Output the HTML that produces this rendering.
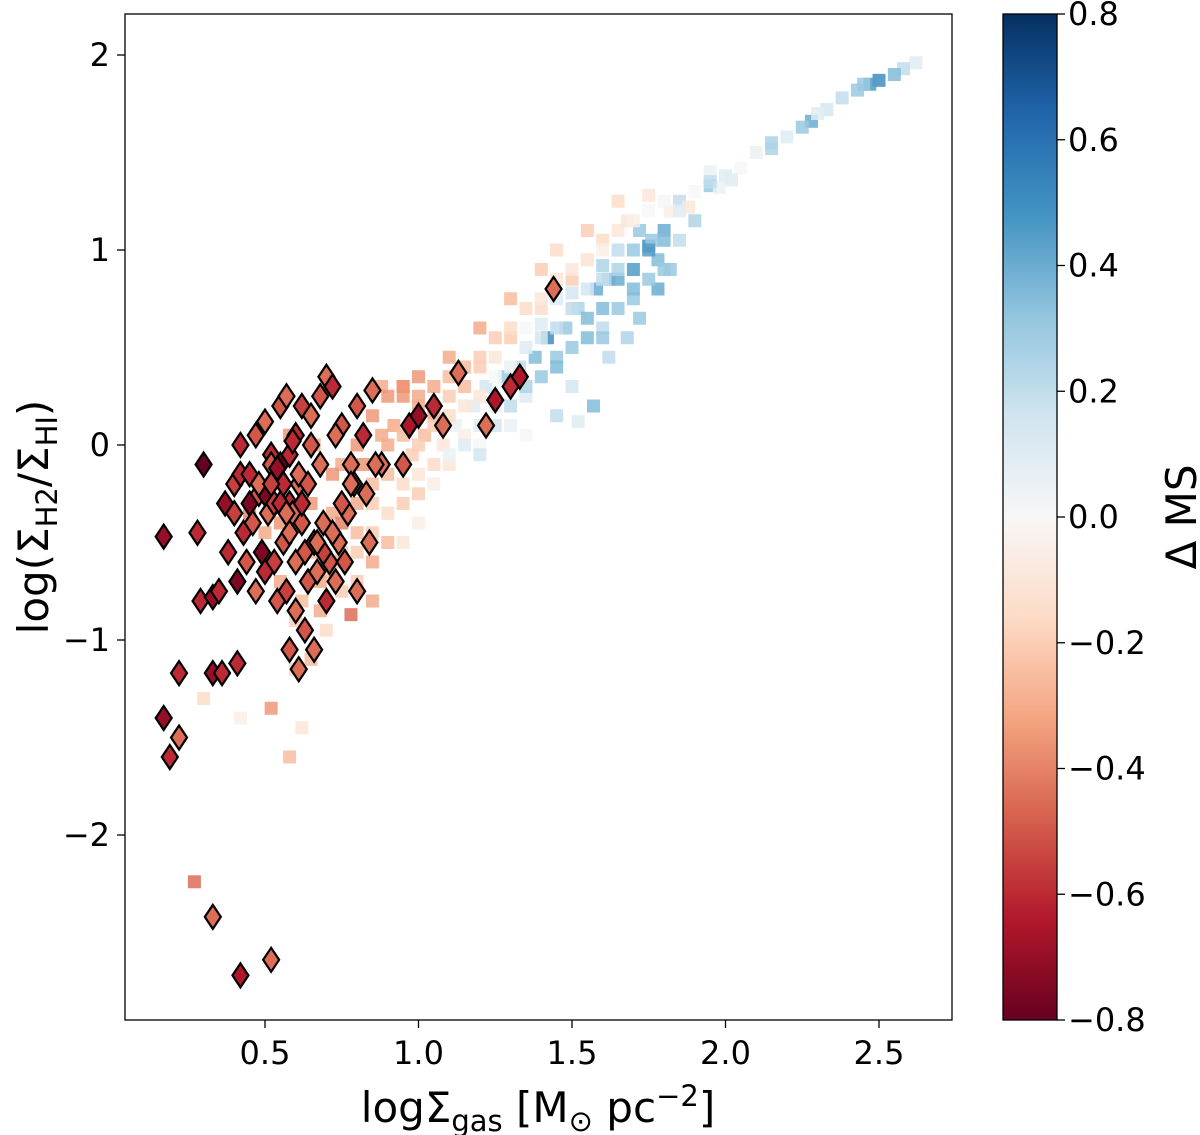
<!DOCTYPE html>
<html><head><meta charset="utf-8"><style>
body{margin:0;background:#fff;}
svg{display:block;font-family:"DejaVu Sans","Liberation Sans",sans-serif;}
</style></head><body>
<svg id="chart" width="1200" height="1135" viewBox="0 0 1200 1135">
<defs>
<linearGradient id="cmap" x1="0" y1="1" x2="0" y2="0">
<stop offset="0" stop-color="#67001f"/><stop offset="0.1" stop-color="#b2182b"/><stop offset="0.2" stop-color="#d6604d"/><stop offset="0.3" stop-color="#f4a582"/><stop offset="0.4" stop-color="#fddbc7"/><stop offset="0.5" stop-color="#f7f7f7"/><stop offset="0.6" stop-color="#d1e5f0"/><stop offset="0.7" stop-color="#92c5de"/><stop offset="0.8" stop-color="#4393c3"/><stop offset="0.9" stop-color="#2166ac"/><stop offset="1" stop-color="#053061"/>
</linearGradient>
<clipPath id="plotclip"><rect x="125" y="14" width="827" height="1006"/></clipPath>
</defs>
<g id="squares" clip-path="url(#plotclip)"></g>
<g id="diamonds" clip-path="url(#plotclip)"></g>
<rect x="125" y="14" width="827" height="1006" fill="none" stroke="#000" stroke-width="1.3"/>
<g id="xticks"></g>
<g id="yticks"></g>
<text x="538" y="1122" font-size="42" text-anchor="middle">logΣ<tspan font-size="29" dy="9">gas</tspan><tspan dy="-9"> [M</tspan><tspan font-size="29" dy="9">⊙</tspan><tspan dy="-9"> pc</tspan><tspan font-size="29" dy="-16">−2</tspan><tspan dy="16">]</tspan></text>
<text transform="translate(48,517) rotate(-90)" font-size="42" text-anchor="middle">log(Σ<tspan font-size="29" dy="9">H2</tspan><tspan dy="-9">/Σ</tspan><tspan font-size="29" dy="9">HI</tspan><tspan dy="-9">)</tspan></text>
<rect x="1003" y="14" width="54" height="1006" fill="url(#cmap)" stroke="#000" stroke-width="1.3"/>
<g id="cticks"></g>
<text transform="translate(1196,517) rotate(-90)" font-size="42" text-anchor="middle">Δ MS</text>
</svg>
<script>
const xTicks=[0.5,1.0,1.5,2.0,2.5];
const xTickLabels=["0.5","1.0","1.5","2.0","2.5"];
const yTicks=[2,1,0,-1,-2];
const yTickLabels=["2","1","0","−1","−2"];
const cTicks=[0.8,0.6,0.4,0.2,0.0,-0.2,-0.4,-0.6,-0.8];
const cTickLabels=["0.8","0.6","0.4","0.2","0.0","−0.2","−0.4","−0.6","−0.8"];
const sqX=[2.62,2.58,2.55,2.5,2.47,2.43,2.38,2.33,2.28,2.25,2.2,2.15,2.1,2.05,2.0,1.95,1.9,1.85,1.82,1.8,1.78,1.75,1.72,1.7,1.68,1.65,1.62,1.6,1.58,1.55,1.52,1.5,1.48,1.45,1.42,1.4,1.38,1.35,1.33,1.3,1.28,1.25,1.22,1.2,1.18,1.15,1.12,1.1,1.08,1.05,1.02,1.0,0.98,0.95,0.92,0.9,0.88,0.85,0.82,0.8,0.78,0.75,0.72,0.7,0.68,0.65,0.6,0.62,0.58,0.52,0.42,0.3,0.27,0.78,1.5,1.6,1.7,1.65,1.55,1.45,1.35,1.25,1.15,1.05,0.95,0.9,0.85,0.8,0.75,1.4,1.45,1.55,1.65,1.75,1.3,1.2,1.1,1.0,0.95,0.88,1.57,1.52,1.45,1.35,1.62,1.68,1.72,0.6,0.55,0.7,0.5,0.52,0.65,0.85,1.0,1.1,1.2,1.3,1.82,1.85,1.9,1.78,1.98,2.02,1.88,1.76,1.6,1.5,1.4,
0.75,0.75,0.75,0.8,0.8,0.8,0.85,0.85,0.85,0.9,0.9,0.9,0.95,0.95,0.95,0.95,1.0,1.0,1.0,1.0,1.05,1.05,1.05,1.1,1.1,1.1,1.15,1.15,1.15,1.2,1.2,1.2,1.2,1.25,1.25,1.25,1.3,1.3,1.3,1.35,1.35,1.35,1.4,1.4,1.4,1.45,1.45,1.45,1.5,1.5,1.5,1.55,1.55,1.55,1.6,1.6,1.6,1.6,1.65,1.65,1.65,1.7,1.7,1.7,1.75,1.75,1.75,1.8,1.8,1.8,1.85,1.95,1.95,2.15,2.3,2.45,0.5,0.55,0.6,0.65,0.7,0.45,0.62,0.68,0.72,0.66,0.58];
const sqY=[1.96,1.93,1.9,1.87,1.85,1.82,1.78,1.72,1.66,1.63,1.58,1.52,1.5,1.42,1.38,1.33,1.3,1.25,1.2,1.1,0.95,1.02,1.1,0.9,1.15,1.0,0.85,1.05,0.8,0.95,0.7,0.85,0.6,0.75,0.55,0.7,0.45,0.6,0.4,0.55,0.35,0.45,0.3,0.4,0.2,0.3,0.1,0.25,0.0,0.15,0.05,0.2,-0.05,0.25,0.1,-0.15,0.05,-0.3,-0.1,-0.45,-0.2,-0.55,-0.35,-0.65,-0.85,-1.1,-1.15,-1.45,-1.6,-1.35,-1.4,-1.3,-2.24,-0.87,0.3,0.6,0.75,0.85,0.65,0.45,0.25,0.2,0.05,-0.1,-0.3,-0.5,-0.6,-0.7,-0.4,0.9,1.0,1.1,1.25,1.28,0.75,0.6,0.45,0.35,0.3,0.3,0.2,0.12,0.15,0.05,0.45,0.55,0.65,-0.9,-0.7,-0.95,-0.45,-0.2,-0.3,-0.8,-0.25,-0.1,0.0,0.1,0.9,1.05,1.15,0.8,1.32,1.36,1.22,1.05,0.92,0.78,0.62,
-0.1,-0.6,-0.75,0.0,-0.3,-0.55,0.15,-0.2,-0.45,0.25,0.0,-0.35,0.3,0.05,-0.2,-0.5,0.25,0.0,-0.15,-0.4,0.3,0.1,-0.2,0.35,0.15,-0.05,0.4,0.2,0.0,0.45,0.25,0.1,-0.05,0.55,0.35,0.1,0.6,0.4,0.2,0.7,0.5,0.3,0.75,0.55,0.35,0.85,0.6,0.4,0.9,0.7,0.5,0.95,0.8,0.55,1.0,0.85,0.7,0.55,1.1,0.9,0.7,1.15,1.0,0.8,1.2,1.0,0.85,1.25,1.05,0.9,1.2,1.4,1.35,1.55,1.7,1.85,-0.65,-0.4,-0.6,-0.55,-0.4,-0.35,-0.8,-0.7,-0.15,0.0,0.05];
const sqC=[0.1,0.2,0.35,0.5,0.45,0.3,0.2,0.15,0.4,0.3,0.1,0.25,0.05,0.0,0.1,0.3,0.0,0.2,-0.05,0.4,0.35,0.5,0.3,0.45,-0.1,0.2,0.3,-0.15,0.4,-0.1,0.25,-0.2,0.3,0.1,0.5,-0.15,0.35,0.0,0.2,-0.2,0.3,-0.1,0.15,-0.2,0.1,-0.25,0.05,-0.2,-0.1,-0.3,-0.25,-0.3,-0.2,-0.35,-0.3,-0.25,-0.3,-0.2,-0.35,-0.25,-0.3,-0.2,-0.3,-0.25,-0.3,-0.25,-0.2,-0.1,-0.25,-0.35,-0.05,-0.15,-0.45,-0.45,0.15,0.2,0.3,0.4,0.35,0.3,0.1,0.05,-0.05,-0.15,-0.2,-0.25,-0.3,-0.2,-0.4,-0.2,-0.15,-0.2,-0.15,-0.1,-0.25,-0.3,-0.3,-0.35,-0.4,-0.3,0.35,0.1,0.2,0.0,0.2,0.25,0.3,-0.2,-0.3,-0.15,-0.3,-0.3,-0.35,-0.3,-0.2,-0.1,0.0,0.05,0.3,0.2,0.25,0.4,0.05,0.1,-0.1,0.3,0.25,0.15,0.1,
-0.3,-0.25,-0.2,-0.35,-0.3,-0.2,-0.35,-0.25,-0.2,-0.35,-0.3,-0.15,-0.35,-0.25,-0.15,-0.1,-0.3,-0.2,-0.1,-0.05,-0.3,-0.2,-0.05,-0.25,-0.15,0.05,-0.25,-0.1,0.1,-0.2,-0.1,0.1,0.15,-0.2,0.0,0.15,-0.15,0.05,0.2,-0.15,0.1,0.25,-0.1,0.15,0.3,-0.1,0.2,0.35,-0.1,0.2,0.3,-0.1,0.15,0.35,-0.05,0.2,0.35,0.3,-0.1,0.25,0.3,-0.05,0.3,0.35,0.0,0.45,0.3,0.0,0.35,0.3,0.1,0.05,0.2,0.25,0.1,0.3,-0.3,-0.35,-0.3,-0.25,-0.3,-0.4,-0.25,-0.3,-0.35,-0.3,-0.35];
const diX=[1.44,1.13,1.25,1.22,1.3,1.33,0.97,1.0,1.05,1.08,0.95,0.33,0.42,0.52,0.17,0.19,0.22,0.22,0.17,0.33,0.36,0.41,0.3,0.28,0.29,0.33,0.35,0.4,0.42,0.45,0.48,0.5,0.52,0.55,0.57,0.6,0.62,0.65,0.68,0.7,0.72,0.75,0.78,0.8,0.82,0.85,0.88,0.43,0.46,0.49,0.51,0.53,0.56,0.58,0.61,0.63,0.66,0.69,0.71,0.74,0.77,0.79,0.83,0.86,0.38,0.41,0.44,0.47,0.5,0.54,0.57,0.6,0.64,0.67,0.7,0.73,0.76,0.8,0.84,0.55,0.58,0.61,0.64,0.5,0.53,0.56,0.59,0.62,0.45,0.48,0.52,0.55,0.58,0.37,0.4,0.6,0.63,0.66,0.69,0.72,0.75,0.78,0.65,0.68,0.73,0.42,0.47,0.52,0.57,0.62,0.67,0.58,0.61,0.54,0.59];
const diY=[0.8,0.37,0.23,0.1,0.3,0.35,0.1,0.15,0.2,0.1,-0.1,-2.42,-2.72,-2.64,-1.4,-1.6,-1.5,-1.17,-0.47,-1.17,-1.17,-1.12,-0.1,-0.45,-0.8,-0.78,-0.75,-0.2,-0.15,-0.3,-0.25,0.12,-0.05,0.2,0.25,0.05,0.2,0.15,0.25,0.35,0.3,0.1,-0.1,0.2,0.05,0.28,-0.1,-0.45,-0.4,-0.55,-0.35,-0.6,-0.5,-0.3,-0.2,-0.55,-0.5,-0.4,-0.6,-0.5,-0.35,-0.2,-0.25,-0.1,-0.55,-0.7,-0.6,-0.75,-0.65,-0.8,-0.75,-0.6,-0.7,-0.65,-0.8,-0.7,-0.6,-0.75,-0.5,-0.1,-0.05,-0.15,-0.2,-0.25,-0.3,-0.2,-0.35,-0.4,-0.15,-0.2,-0.1,-0.3,-0.45,-0.3,-0.35,-0.85,-0.95,-1.05,-0.55,-0.45,-0.3,-0.2,0.0,-0.1,0.05,0.0,0.05,-0.2,-0.35,-0.3,-0.5,-1.05,-1.15,-0.12,0.02];
const diC=[-0.45,-0.45,-0.65,-0.45,-0.6,-0.65,-0.65,-0.7,-0.6,-0.45,-0.5,-0.45,-0.65,-0.45,-0.7,-0.6,-0.45,-0.6,-0.7,-0.7,-0.6,-0.6,-0.8,-0.6,-0.6,-0.7,-0.6,-0.55,-0.6,-0.75,-0.5,-0.45,-0.6,-0.5,-0.45,-0.6,-0.55,-0.45,-0.5,-0.45,-0.6,-0.5,-0.45,-0.5,-0.6,-0.45,-0.45,-0.6,-0.5,-0.75,-0.45,-0.55,-0.5,-0.6,-0.45,-0.5,-0.55,-0.45,-0.5,-0.45,-0.45,-0.5,-0.45,-0.45,-0.6,-0.75,-0.5,-0.45,-0.6,-0.5,-0.55,-0.45,-0.5,-0.45,-0.6,-0.45,-0.5,-0.45,-0.45,-0.8,-0.6,-0.45,-0.5,-0.75,-0.55,-0.6,-0.45,-0.5,-0.6,-0.45,-0.5,-0.6,-0.45,-0.7,-0.55,-0.45,-0.5,-0.45,-0.55,-0.45,-0.5,-0.45,-0.5,-0.45,-0.45,-0.6,-0.5,-0.55,-0.45,-0.6,-0.45,-0.5,-0.45,-0.7,-0.6];

const NS="http://www.w3.org/2000/svg";
const X=v=>111.5+v*307;
const Y=v=>445-v*195;
const C=v=>517-v*(1006/1.6);
const stops=["#67001f","#b2182b","#d6604d","#f4a582","#fddbc7","#f7f7f7","#d1e5f0","#92c5de","#4393c3","#2166ac","#053061"];
function hex(h){return [1,3,5].map(i=>parseInt(h.substr(i,2),16));}
function cmap(v){let t=(v+0.8)/1.6*10;t=Math.max(0,Math.min(10,t));const i=Math.min(9,Math.floor(t)),f=t-i;const a=hex(stops[i]),b=hex(stops[i+1]);return "rgb("+a.map((x,k)=>Math.round(x+(b[k]-x)*f)).join(",")+")";}
function mk(tag,attrs,parent){const e=document.createElementNS(NS,tag);for(const k in attrs)e.setAttribute(k,attrs[k]);parent.appendChild(e);return e;}

const sq=document.getElementById('squares');
sqX.forEach((x,i)=>{
  const r=mk('rect',{x:X(x)-6.5,y:Y(sqY[i])-6.5,width:13,height:13,fill:cmap(sqC[i]),'fill-opacity':0.85},sq);
  
  
});
const di=document.getElementById('diamonds');
diX.forEach((x,i)=>{
  const cx=X(x),cy=Y(diY[i]);
  const p=mk('polygon',{points:`${cx},${cy-12} ${cx+8},${cy} ${cx},${cy+12} ${cx-8},${cy}`,fill:cmap(diC[i]),stroke:'#000','stroke-width':2.2},di);
  
  
});
const xt=document.getElementById('xticks');
xTicks.forEach((v,i)=>{
  const l=mk('line',{x1:X(v),x2:X(v),y1:1020,y2:1028,stroke:'#000','stroke-width':1.3},xt);
  
  
  const t=mk('text',{x:X(v),y:1064,'font-size':32,'text-anchor':'middle'},xt);t.textContent=xTickLabels[i];
  
  
});
const yt=document.getElementById('yticks');
yTicks.forEach((v,i)=>{
  const l=mk('line',{x1:117,x2:125,y1:Y(v),y2:Y(v),stroke:'#000','stroke-width':1.3},yt);
  
  
  const t=mk('text',{x:110,y:Y(v)+11,'font-size':32,'text-anchor':'end'},yt);t.textContent=yTickLabels[i];
  
  
});
const ct=document.getElementById('cticks');
cTicks.forEach((v,i)=>{
  const l=mk('line',{x1:1057,x2:1065,y1:C(v),y2:C(v),stroke:'#000','stroke-width':1.3},ct);
  
  
  const t=mk('text',{x:1068,y:C(v)+11,'font-size':32},ct);t.textContent=cTickLabels[i];
  
  
});
</script>
</body></html>
